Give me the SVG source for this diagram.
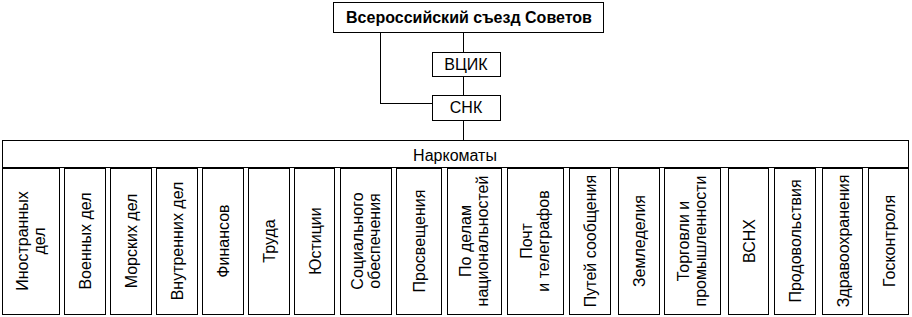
<svg xmlns="http://www.w3.org/2000/svg" width="912" height="317" viewBox="0 0 912 317">
<style>
rect{fill:#fff;stroke:#000;stroke-width:1;shape-rendering:crispEdges}
line,polyline{fill:none;stroke:#000;stroke-width:1;shape-rendering:crispEdges}
text{font-family:"Liberation Sans",Arial,sans-serif;font-size:16px;fill:#000;text-anchor:middle}
.b{font-weight:bold}
</style>
<rect x="0" y="0" width="912" height="317" style="stroke:none"/>
<g id="connectors">
<polyline points="380.5,32 380.5,103.5 432,103.5"/>
<line x1="463.5" y1="32" x2="463.5" y2="52"/>
<line x1="463.5" y1="76" x2="463.5" y2="95"/>
<line x1="463.5" y1="120" x2="463.5" y2="140"/>
</g>
<g id="congress"><rect x="333.5" y="2.5" width="270" height="30"/><text class="b" x="469" y="23">Всероссийский съезд Советов</text></g>
<g id="vcik"><rect x="432.5" y="52.5" width="68" height="24"/><text x="466" y="70">ВЦИК</text></g>
<g id="snk"><rect x="432.5" y="95.5" width="68" height="25"/><text x="466" y="113">СНК</text></g>
<g id="narkomaty"><rect x="2.5" y="140.5" width="906" height="27"/><text x="455" y="161">Наркоматы</text></g>
<g id="n1"><rect x="2.5" y="168.5" width="57" height="146"/><text transform="translate(31,241) rotate(-90)"><tspan x="0" y="-3">Иностранных</tspan><tspan x="0" y="14">дел</tspan></text></g>
<g id="n2"><rect x="64.5" y="168.5" width="41" height="146"/><text transform="translate(85,241) rotate(-90)" y="6">Военных дел</text></g>
<g id="n3"><rect x="110.5" y="168.5" width="41" height="146"/><text transform="translate(131,241) rotate(-90)" y="6">Морских дел</text></g>
<g id="n4"><rect x="156.5" y="168.5" width="41" height="146"/><text transform="translate(177,241) rotate(-90)" y="6">Внутренних дел</text></g>
<g id="n5"><rect x="202.5" y="168.5" width="41" height="146"/><text transform="translate(223,241) rotate(-90)" y="6">Финансов</text></g>
<g id="n6"><rect x="248.5" y="168.5" width="41" height="146"/><text transform="translate(269,241) rotate(-90)" y="6">Труда</text></g>
<g id="n7"><rect x="294.5" y="168.5" width="40" height="146"/><text transform="translate(315,241) rotate(-90)" y="6">Юстиции</text></g>
<g id="n8"><rect x="340.5" y="168.5" width="51" height="146"/><text transform="translate(366,241) rotate(-90)"><tspan x="0" y="-3">Социального</tspan><tspan x="0" y="14">обеспечения</tspan></text></g>
<g id="n9"><rect x="396.5" y="168.5" width="45" height="146"/><text transform="translate(419,241) rotate(-90)" y="6">Просвещения</text></g>
<g id="n10"><rect x="447.5" y="168.5" width="54" height="146"/><text transform="translate(474,241) rotate(-90)"><tspan x="0" y="-3">По делам</tspan><tspan x="0" y="14">национальностей</tspan></text></g>
<g id="n11"><rect x="507.5" y="168.5" width="56" height="146"/><text transform="translate(535,241) rotate(-90)"><tspan x="0" y="-3">Почт</tspan><tspan x="0" y="14">и телеграфов</tspan></text></g>
<g id="n12"><rect x="569.5" y="168.5" width="41" height="146"/><text transform="translate(590,241) rotate(-90)" y="6">Путей сообщения</text></g>
<g id="n13"><rect x="618.5" y="168.5" width="41" height="146"/><text transform="translate(639,241) rotate(-90)" y="6">Земледелия</text></g>
<g id="n14"><rect x="664.5" y="168.5" width="56" height="146"/><text transform="translate(692,241) rotate(-90)"><tspan x="0" y="-3">Торговли и</tspan><tspan x="0" y="14">промышленности</tspan></text></g>
<g id="n15"><rect x="728.5" y="168.5" width="40" height="146"/><text transform="translate(749,241) rotate(-90)" y="6">ВСНХ</text></g>
<g id="n16"><rect x="774.5" y="168.5" width="41" height="146"/><text transform="translate(795,241) rotate(-90)" y="6">Продовольствия</text></g>
<g id="n17"><rect x="822.5" y="168.5" width="40" height="146"/><text transform="translate(843,241) rotate(-90)" y="6">Здравоохранения</text></g>
<g id="n18"><rect x="868.5" y="168.5" width="40" height="146"/><text transform="translate(889,241) rotate(-90)" y="6">Госконтроля</text></g>
</svg>
